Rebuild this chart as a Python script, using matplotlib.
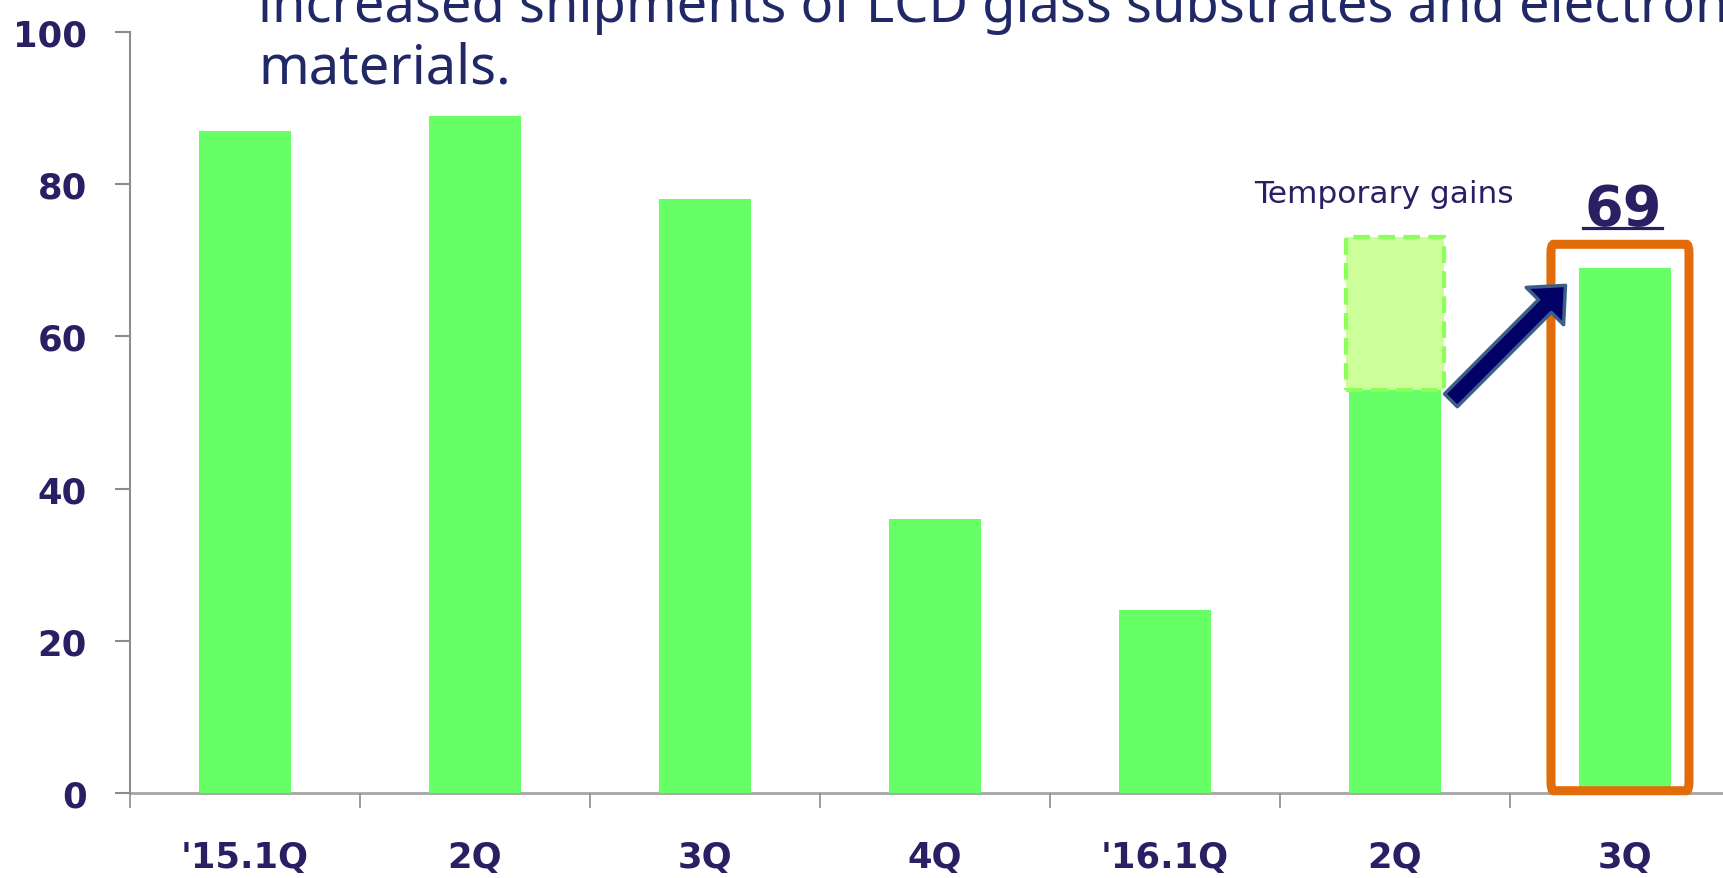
import matplotlib
matplotlib.use("Agg")
import matplotlib.pyplot as plt
from matplotlib.patches import FancyBboxPatch

# data
quarters = ["'15.1Q", "2Q", "3Q", "4Q", "'16.1Q", "2Q", "3Q"]
values = [87, 89, 78, 36, 24, 53, 69]
temp_gain_idx = 5
temp_gain_top = 73      # top of the dashed "temporary gains" block
highlight_idx = 6
highlight_label = "69"
yticks = [0, 20, 40, 60, 80, 100]

navy = "#2A1F63"
bar_green = "#66FF66"
axis_grey = "#8C8C8C"

fig = plt.figure(figsize=(17.24, 8.79), dpi=100)
ax = fig.add_axes([0.0754, 0.0967, 0.9339, 0.8658])

x = list(range(len(quarters)))
ax.bar(x, values, width=0.4, color=bar_green, zorder=2)

# dashed block on top of 2Q showing temporary gains
ax.bar(temp_gain_idx, temp_gain_top - values[temp_gain_idx], bottom=values[temp_gain_idx],
       width=0.43, color="#CCFF99", edgecolor="#8CFF5A", linestyle=(0, (4, 2)),
       linewidth=3, zorder=2)
ax.text(temp_gain_idx - 0.05, 78.8, "Temporary gains", color=navy, fontsize=22.5,
        ha="center", va="center")

# orange frame round the latest quarter
frame = FancyBboxPatch((highlight_idx - 0.322, 0.3), 0.6, 71.8,
                       boxstyle="round,pad=0,rounding_size=0.012",
                       fill=False, edgecolor="#E36C0A", linewidth=6.5,
                       zorder=3, clip_on=False, mutation_aspect=100)
ax.add_patch(frame)

# arrow from 2Q block to the frame
ax.annotate("", xy=(5.741, 66.7), xytext=(5.243, 51.6),
            arrowprops=dict(arrowstyle="simple,head_length=2.1,head_width=3.8,tail_width=1.3",
                            mutation_scale=10, fc="#000066", ec="#3A5F8A", lw=2.5,
                            shrinkA=0, shrinkB=0), zorder=4)

# big underlined value label
lbl = ax.text(highlight_idx - 0.01, 74.7, highlight_label, color=navy, fontsize=40,
              fontweight="bold", ha="center", va="baseline", clip_on=False)

# headline text (partly cut off at the top, as in the slide)
head_color = "#202866"
fig.text(258 / 1724, 1 - 22 / 879,
         "increased shipments of LCD glass substrates and electronic",
         color=head_color, fontsize=39, family="Noto Sans", va="baseline")
fig.text(258 / 1724, 1 - 84 / 879, "materials.",
         color=head_color, fontsize=39, family="Noto Sans", va="baseline")

ax.set_xlim(-0.5, 6.5)
ax.set_ylim(0, 100)

ax.set_yticks(yticks)
ax.tick_params(axis="y", length=11, width=1.5, color=axis_grey, pad=20,
               labelsize=25.5, labelcolor=navy)
for t in ax.get_yticklabels():
    t.set_fontweight("bold")

ax.set_xticks(x)
ax.set_xticklabels(quarters, fontsize=25.5, fontweight="bold", color=navy)
ax.tick_params(axis="x", which="major", length=0, pad=34)
ax.set_xticks([i - 0.5 for i in range(len(quarters) + 1)], minor=True)
ax.tick_params(axis="x", which="minor", length=11, width=1.2, color=axis_grey)

for s in ["top", "right"]:
    ax.spines[s].set_visible(False)
ax.spines["left"].set_color(axis_grey)
ax.spines["left"].set_linewidth(1.5)
ax.spines["bottom"].set_color("#A6A6A6")
ax.spines["bottom"].set_linewidth(2)
ax.spines["bottom"].set_zorder(1)

# underline just under the baseline of the value label
fig.canvas.draw()
bb = lbl.get_window_extent()
inv = ax.transData.inverted()
x0 = inv.transform((bb.x0 - 1, 0))[0]
x1 = inv.transform((bb.x1 + 1, 0))[0]
ax.plot([x0, x1], [74.2, 74.2], color=navy, lw=2.3, clip_on=False, zorder=5)

fig.savefig("out.png", dpi=100)
